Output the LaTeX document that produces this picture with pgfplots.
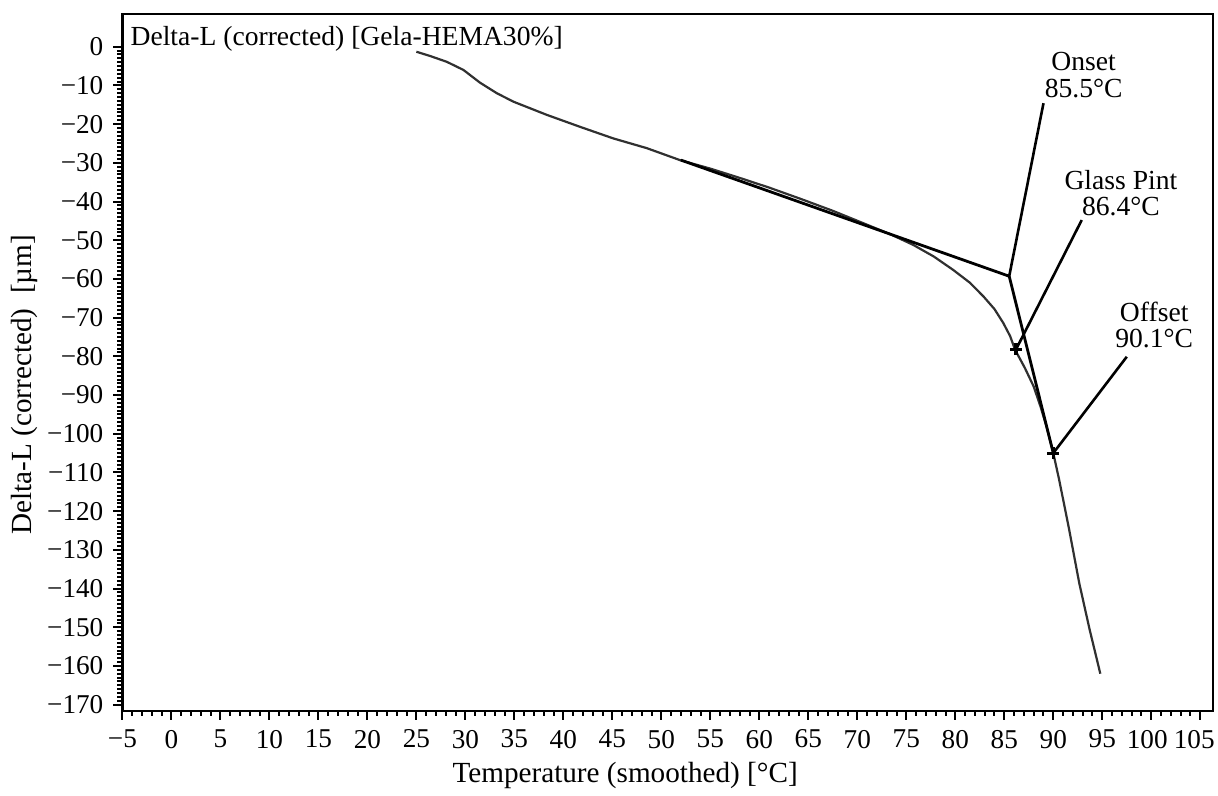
\documentclass[border=0pt]{standalone}
\usepackage{pgfplots}
\pgfplotsset{compat=1.18}
\usepackage{fontspec}
\setmainfont{Liberation Serif}
\definecolor{curve}{HTML}{303030}

\begin{document}
\begin{tikzpicture}
\begin{axis}[
    at={(0,0)}, anchor=south west,
    scale only axis,
    width=545.4pt, height=348.5pt,
    xmin=-5, xmax=106.3,
    ymin=-171.6, ymax=8.45,
    xtick={-5,0,...,105},
    xticklabels={−5,0,5,10,15,20,25,30,35,40,45,50,55,60,65,70,75,80,85,90,95,\hspace*{-4pt}100,\hspace*{-6pt}105},
    ytick={0,-10,...,-170},
    yticklabels={0,−10,−20,−30,−40,−50,−60,−70,−80,−90,−100,−110,−120,−130,−140,−150,−160,−170},
    minor x tick num=4,
    minor y tick num=9,
    tick align=outside,
    xtick pos=bottom, ytick pos=left,
    major tick length=4.5pt, minor tick length=2.5pt,
    every tick/.style={black, line width=1pt},
    axis line style={line width=1.3pt},
    tick label style={font=\fontsize{13.6}{15}\selectfont},
    xticklabel style={yshift=-1.5pt},
    yticklabel style={xshift=-1.5pt},
    xlabel={Temperature (smoothed) [°C]},
    ylabel={Delta-L (corrected)\ \ [µm]},
    label style={font=\fontsize{14.6}{16}\selectfont},
    xlabel style={at={(axis description cs:0.461,-0.093)}, anchor=center},
    ylabel style={at={(axis description cs:-0.0898,0.468)}, anchor=center},
    clip=false,
]
% measured curve
\addplot[color=curve, line width=1.1pt] coordinates {
    (25.0,-1.3) (26.4,-2.4) (28.1,-3.9) (29.8,-6.0) (31.5,-9.3)
    (33.2,-12.0) (34.9,-14.2) (36.6,-15.9) (38.3,-17.6) (41.7,-20.7)
    (45.1,-23.7) (48.5,-26.2) (51.9,-29.3) (55.0,-31.5) (58.0,-33.9)
    (61.0,-36.4) (64.2,-39.3) (67.5,-42.4) (71.0,-46.0) (73.5,-48.6)
    (75.7,-51.2) (77.8,-54.2) (79.8,-57.7) (81.5,-61.0) (82.9,-64.6)
    (84.0,-67.8) (84.9,-71.4) (85.6,-74.8) (86.1,-78.3) (87.1,-83.0)
    (88.0,-87.8) (88.7,-93.0) (89.3,-98.1) (90.0,-105.0) (90.6,-111.9)
    (91.6,-124.5) (92.65,-138.6) (93.7,-150.5) (94.8,-162.0)
};
% tangents
\addplot[black, line width=1.4pt] coordinates {(52.0,-29.3) (85.5,-59.3)};
\addplot[black, line width=1.4pt] coordinates {(85.5,-59.3) (90.0,-105.0)};
% leader lines
\addplot[black, line width=1.3pt] coordinates {(89.0,-14.6) (85.5,-59.3)};
\addplot[black, line width=1.3pt] coordinates {(92.9,-44.8) (86.2,-78.2)};
\addplot[black, line width=1.3pt] coordinates {(97.5,-80.1) (90.0,-105.0)};
% markers
\addplot[black, only marks, mark=+, mark size=3pt, line width=1.6pt] coordinates {
    (86.2,-78.2) (90.0,-105.0)
};
\node[anchor=base west, inner sep=0pt, font=\fontsize{13.8}{15}\selectfont]
    at (axis cs:-4.2,0.4) {Delta-L (corrected) [Gela-HEMA30\%]};
\node[align=center, font=\fontsize{13.8}{13.3}\selectfont]
    at (axis cs:93.1,-7.3) {Onset\\85.5°C};
\node[align=center, font=\fontsize{13.8}{13.3}\selectfont]
    at (axis cs:96.9,-37.8) {Glass Pint\\86.4°C};
\node[align=center, font=\fontsize{13.8}{13.3}\selectfont]
    at (axis cs:100.3,-71.9) {Offset\\90.1°C};
\end{axis}
\pgfresetboundingbox
\useasboundingbox (-61.2pt,-42.5pt) rectangle (547.9pt,355.5pt);
\end{tikzpicture}
\end{document}
